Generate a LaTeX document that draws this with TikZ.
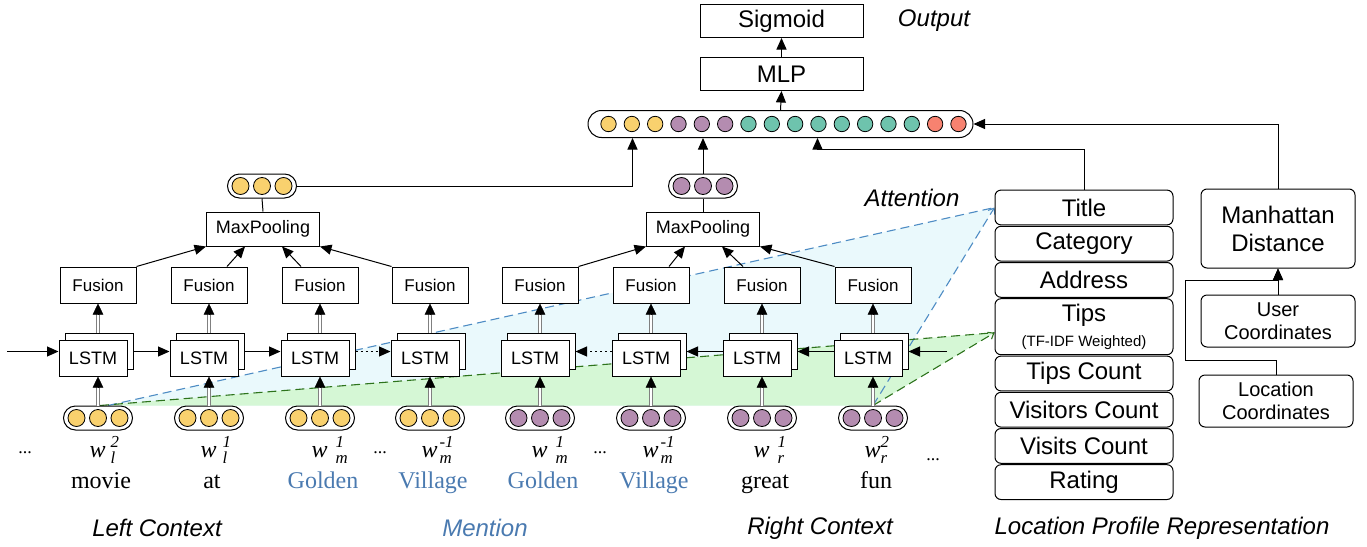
\documentclass[tikz,border=0pt]{standalone}
\usepackage{fontspec}
\usepackage{amsmath}
\usetikzlibrary{arrows.meta,backgrounds,calc,positioning}
\setmainfont{Liberation Sans}
\newfontfamily\timesfont{Liberation Serif}
\definecolor{dotyel}{RGB}{249,209,110}
\definecolor{dotpur}{RGB}{180,140,176}
\definecolor{dotteal}{RGB}{110,195,173}
\definecolor{dotred}{RGB}{247,130,112}
\definecolor{menblue}{RGB}{74,122,176}
\definecolor{attblue}{RGB}{78,140,196}
\definecolor{attcyan}{RGB}{234,249,252}
\definecolor{attgreen}{RGB}{45,115,28}
\definecolor{attmint}{RGB}{213,247,213}
\newcommand{\wlab}[3][5pt]{$\textit{w}^{\kern#1\textit{#2}}_{\kern#1\textit{#3}}$}

\begin{document}
\begin{tikzpicture}[x=1pt, y=-1pt,
	box/.style={draw, fill=white, line width=1pt, inner sep=0pt},
	topbox/.style={box, minimum width=163pt, minimum height=33pt, font=\fontsize{24}{28}\selectfont},
	poolbox/.style={box, minimum width=113pt, minimum height=34pt, font=\fontsize{18}{22}\selectfont},
	fusbox/.style={box, minimum width=76pt, minimum height=36pt, font=\fontsize{17}{20}\selectfont},
	lstmbox/.style={box, minimum width=68pt, minimum height=36pt, font=\fontsize{18}{22}\selectfont},
	feat/.style={box, rounded corners=6pt, minimum width=178pt, minimum height=34.8pt, font=\fontsize{24}{28}\selectfont},
	coordbox/.style={box, rounded corners=6pt, minimum width=154pt, minimum height=52pt, align=center, font=\fontsize{20}{23}\selectfont},
	capsule/.style={box, rounded corners=12pt, minimum width=69pt, minimum height=24pt},
	vdot/.style={draw, line width=0.8pt},
	arr/.style={line width=1pt, -{Triangle[length=11.5pt,width=10pt]}},
	dbl/.style={draw=black!50, double=white, double distance=1.6pt, line width=0.8pt, shorten >=10pt},
	headonly/.style={line width=0.5pt, -{Triangle[length=11pt,width=10.5pt]}},
	attdash/.style={line width=1.1pt, dash pattern=on 9pt off 5pt},
	barb/.style={-{Straight Barb[length=5pt,width=8pt]}},
	word/.style={font=\fontsize{24}{28}\timesfont},
	ell/.style={font=\fontsize{18}{20}\timesfont},
	sectlab/.style={font=\fontsize{24}{28}\selectfont\itshape}]
	\useasboundingbox (0,0) rectangle (1367,546);

	\node[topbox] (sig) at (781.5,21) {Sigmoid};
	\node[topbox] (mlp) at (781.5,74) {MLP};
	\node[sectlab] (outlab) at (934,21) {Output};
	\node[box, rounded corners=13.5pt, minimum width=385pt, minimum height=27pt] (vec) at (780.5,124) {};
	\foreach \k/\dc in {0/dotyel,1/dotyel,2/dotyel,3/dotpur,4/dotpur,5/dotpur,6/dotteal,7/dotteal,8/dotteal,9/dotteal,10/dotteal,11/dotteal,12/dotteal,13/dotteal,14/dotred,15/dotred}
		\draw[vdot, fill=\dc] ($(vec.west)+({21+23.33*\k},0)$) circle (7.7pt);
	\draw[arr] (mlp.north) -- (sig.south);
	\draw[arr] (vec.north) -- (mlp.south);

	\node[capsule] (pl) at (262,186) {};
	\node[capsule] (pr) at (703,186) {};
	\foreach \k in {-1,0,1}{
		\draw[vdot, fill=dotyel] ([xshift=\k*21.5pt]pl.center) circle (8.5pt);
		\draw[vdot, fill=dotpur] ([xshift=\k*21.5pt]pr.center) circle (8.5pt);
	}
	\node[poolbox] (poolL) at (263,229) {MaxPooling};
	\node[poolbox] (poolR) at (703,229) {MaxPooling};
	\draw[line width=1pt] (poolL.north) -- (pl.south);
	\draw[line width=1pt] (poolR.north) -- (pr.south);
	\draw[arr] (pl.east) -| ($(vec.south west)+(45,0)$);
	\draw[arr] (pr.north) -- (pr.north |- vec.south);
	\node[sectlab] (attlab) at (912,198) {Attention};

	\foreach \i/\x/\dc in {1/98/dotyel,2/209/dotyel,3/320/dotyel,4/430/dotyel,5/540/dotpur,6/651/dotpur,7/762/dotpur,8/873/dotpur}{
		\node[capsule] (emb\i) at (\x,418) {};
		\foreach \k in {-1,0,1}
			\draw[vdot, fill=\dc] ([xshift=\k*21.5pt]emb\i.center) circle (8.5pt);
		\node[lstmbox] (lstmb\i) at (\x+1,351.5) {};
		\node[lstmbox] (lstm\i) at (\x-5,358) {LSTM};
		\node[fusbox] (fus\i) at (\x,285) {Fusion};
		\draw[dbl] (emb\i.north) -- (emb\i.north |- lstm\i.south);
		\draw[headonly] ($(emb\i.north |- lstm\i.south)+(0,11)$) -- (emb\i.north |- lstm\i.south);
		\draw[dbl] (fus\i.south |- lstmb\i.north) -- (fus\i.south);
		\draw[headonly] ($(fus\i.south)+(0,11)$) -- (fus\i.south);
	}

	\foreach \i/\up/\dn/\kk/\txt/\tc in {1/2/l/5pt/movie/black,2/1/l/6pt/at/black,3/1/m/8pt/Golden/menblue,4/-1/m/2pt/Village/menblue,5/1/m/8pt/Golden/menblue,6/-1/m/2pt/Village/menblue,7/1/r/8pt/great/black,8/2/r/0pt/fun/black}{
		\node[word, anchor=base west] (w\i) at ($(emb\i.center)+(-12,39)$) {\wlab[\kk]{\up}{\dn}};
		\node[word, anchor=base, text=\tc] (txt\i) at ($(emb\i.center)+(3,70)$) {\txt};
	}
	\node[ell, anchor=base] (dots1) at (25,453) {...};
	\node[ell, anchor=base] (dots2) at (380,453) {...};
	\node[ell, anchor=base] (dots3) at (600,453) {...};
	\node[ell, anchor=base] (dots4) at (933,460) {...};

	\coordinate (inl) at (7,351.5);
	\coordinate (inr) at (947,351.5);
	\draw[arr] (inl) -- (inl -| lstm1.west);
	\draw[arr] (lstmb1.east) -- (lstmb1.east -| lstm2.west);
	\draw[arr] (lstmb2.east) -- (lstmb2.east -| lstm3.west);
	\draw[arr, dash pattern=on 2pt off 3pt] (lstmb3.east) -- (lstmb3.east -| lstm4.west);
	\draw[arr] (inr) -- (lstmb8.east);
	\draw[arr] (lstmb8.east -| lstm8.west) -- (lstmb7.east);
	\draw[arr] (lstmb7.east -| lstm7.west) -- (lstmb6.east);
	\draw[arr, dash pattern=on 2pt off 3pt] (lstmb6.east -| lstm6.west) -- (lstmb5.east);

	\draw[arr] (fus1.north east) -- (poolL.south west);
	\draw[arr] ([xshift=18pt]fus2.north) -- ([xshift=-18pt]poolL.south);
	\draw[arr] ([xshift=-19pt]fus3.north) -- ([xshift=19pt]poolL.south);
	\draw[arr] (fus4.north west) -- (poolL.south east);
	\draw[arr] (fus5.north east) -- (poolR.south west);
	\draw[arr] ([xshift=18pt]fus6.north) -- ([xshift=-18pt]poolR.south);
	\draw[arr] ([xshift=-19pt]fus7.north) -- ([xshift=19pt]poolR.south);
	\draw[arr] (fus8.north west) -- (poolR.south east);

	\node[feat] (title) at (1084,207.5) {Title};
	\node[feat, below=0.4pt of title] (categ) {Category};
	\node[feat, below=0.4pt of categ] (addr) {Address};
	\node[feat, below=0.4pt of addr, minimum height=56pt, align=center] (tips) {Tips\\[-3pt]{\fontsize{15}{17}\selectfont(TF-IDF Weighted)}};
	\node[feat, below=0.4pt of tips] (tipcnt) {Tips Count};
	\node[feat, below=0.4pt of tipcnt] (viscnt) {Visitors Count};
	\node[feat, below=0.4pt of viscnt] (visits) {Visits Count};
	\node[feat, below=0.4pt of visits] (rating) {Rating};

	\node[coordbox, minimum height=79pt, font=\fontsize{24}{28}\selectfont] (dist) at (1278,228.5) {Manhattan\\Distance};
	\node[coordbox] (user) at (1278,321) {User\\Coordinates};
	\node[coordbox] (loc) at (1276,401) {Location\\Coordinates};
	\coordinate (bendA) at (1185,360);
	\coordinate (bendB) at (1185,280);
	\draw[arr] (user.north) -- (dist.south);
	\draw[arr] (loc.north) |- (bendA) -- (bendB) -| (dist.south);
	\draw[arr] (dist.north) |- (vec.east);
	\draw[arr] (title.north) -- ++(0,-40) -| ($(vec.south west)+(230,0)$);

	\node[sectlab] (leftlab) at (157,528) {Left Context};
	\node[sectlab, text=menblue] (menlab) at (485,528) {Mention};
	\node[sectlab] (rightlab) at (820,528) {Right Context};
	\node[sectlab] (loclab) at (1162,528) {Location Profile Representation};

	\begin{scope}[on background layer]
		\fill[attcyan] ($(emb1.north)+(10,0)$) -- (title.west) -- (emb8.north) -- cycle;
		\fill[attmint] ($(emb1.north)+(2,0)$) -- ($(tips.west)+(0,6)$) -- (emb8.north) -- cycle;
		\draw[attdash, attblue] ($(emb1.north)+(10,0)$) -- (title.west);
		\draw[attdash, attblue, barb] (emb8.north) -- (title.west);
		\draw[attdash, attgreen] ($(emb1.north)+(2,0)$) -- ($(tips.west)+(0,6)$);
		\draw[attdash, attgreen, barb] (emb8.north) -- ($(tips.west)+(0,6)$);
	\end{scope}
\end{tikzpicture}
\end{document}
